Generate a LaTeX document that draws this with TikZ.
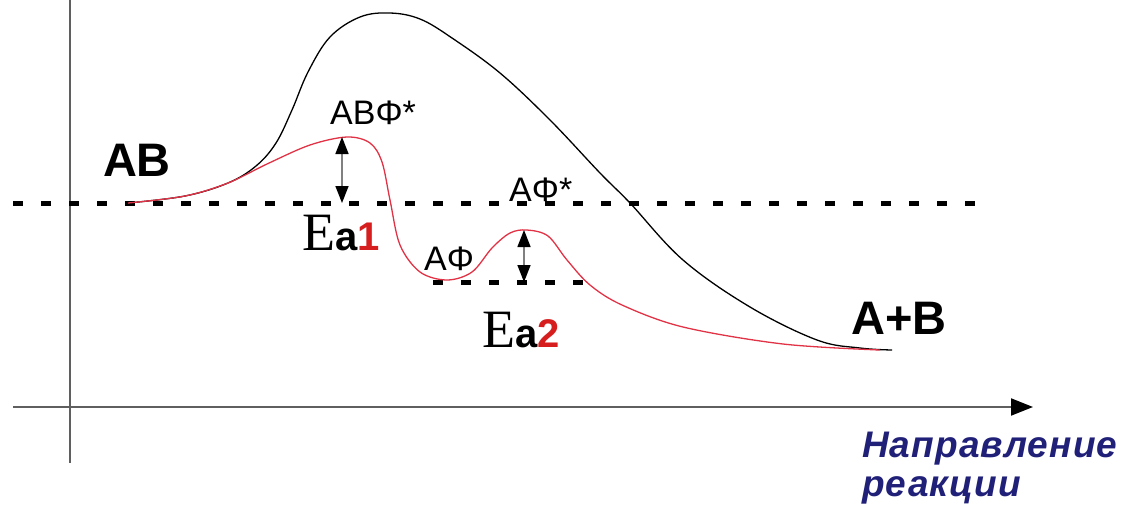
\documentclass[tikz,border=0pt]{standalone}
\usepackage{fontspec}
\setmainfont{Liberation Sans}
\newfontfamily\serifE{Liberation Serif}
\usetikzlibrary{arrows.meta}
\definecolor{navy}{RGB}{32,32,120}
\definecolor{curvered}{RGB}{225,50,70}
\definecolor{axisgray}{RGB}{95,95,95}
\definecolor{idxred}{RGB}{215,30,30}
\begin{document}
\begin{tikzpicture}[x=1pt,y=-1pt,
  axisline/.style={draw=axisgray, line width=2pt},
  levelline/.style={draw=black, line width=5pt, dash pattern=on 10pt off 18pt},
  blackcurve/.style={draw=black, line width=1.3pt},
  redcurve/.style={draw=curvered, line width=1.3pt},
  energyarrow/.style={draw=gray, line width=1.5pt,
     {Triangle[length=17pt,width=13pt,color=black]}-{Triangle[length=17pt,width=13pt,color=black]}},
  species/.style={inner sep=0pt, font=\fontsize{47}{50}\selectfont\bfseries},
  state/.style={inner sep=0pt, anchor=base west, font=\fontsize{34}{38}\selectfont},
  ealabel/.style={inner sep=0pt, anchor=base west},
  navlabel/.style={inner sep=0pt, anchor=base west, text=navy,
     font=\fontsize{37}{40}\selectfont\bfseries\itshape\addfontfeature{LetterSpace=3}},
]
\useasboundingbox (0,0) rectangle (1127,512);

% axes
\coordinate (ytop) at (70,0);
\coordinate (ybot) at (70,463);
\coordinate (xl) at (13,407);
\coordinate (xr) at (1033,407);
\draw[axisline] (ytop) -- (ybot);
\draw[axisline, -{Triangle[length=22pt,width=17pt,color=black]}] (xl) -- (xr);

% level lines
\coordinate (l1a) at (13,203);
\coordinate (l1b) at (980,203);
\coordinate (l2a) at (433,282);
\coordinate (l2b) at (590,282);
\draw[levelline] (l1a) -- (l1b);
\draw[levelline] (l2a) -- (l2b);

% uncatalysed curve
\draw[blackcurve] plot[smooth, tension=0.6] coordinates {
 (128,203) (185,196) (228,183) (256,166) (276,143) (292,110) (308,72)
 (330,37) (360,17) (390,13) (420,19) (452,38) (500,73) (550,120)
 (600,173) (630,203) (683,260) (750,307) (817,340) (860,348) (892,350)};

% catalysed curve
\draw[redcurve] plot[smooth, tension=0.55] coordinates {
 (128,203) (185,196) (228,183) (267,164) (310,145) (347,137) (370,143) (382,162)
 (390,200) (400,245) (420,272) (447,280) (472,272) (492,248) (510,233)
 (527,230) (548,236) (567,260) (590,285) (622,305) (683,327) (783,344) (880,350)};

% activation energy arrows
\coordinate (t1) at (342,137);
\coordinate (b1) at (342,203);
\coordinate (t2) at (524,230);
\coordinate (b2) at (524,282);
\draw[energyarrow] (t1) -- (b1);
\draw[energyarrow] (t2) -- (b2);

% labels
\node[species] (ab) at (137,160) {AB};
\node[species] (apb) at (899,318) {A+B};
\node[state] (abf) at (330,124) {ABΦ*};
\node[state] (afs) at (509,201) {AΦ*};
\node[state] (af) at (424,270) {AΦ};
\node[ealabel] (ea1) at (302,250) {{\serifE\fontsize{54}{58}\selectfont E}{\fontsize{40}{44}\selectfont\bfseries a\textcolor{idxred}{1}}};
\node[ealabel] (ea2) at (482,347) {{\serifE\fontsize{54}{58}\selectfont E}{\fontsize{40}{44}\selectfont\bfseries a\textcolor{idxred}{2}}};
\node[navlabel] (nav1) at (862,457) {Направление};
\node[navlabel] (nav2) at (862,496) {реакции};
\end{tikzpicture}
\end{document}
